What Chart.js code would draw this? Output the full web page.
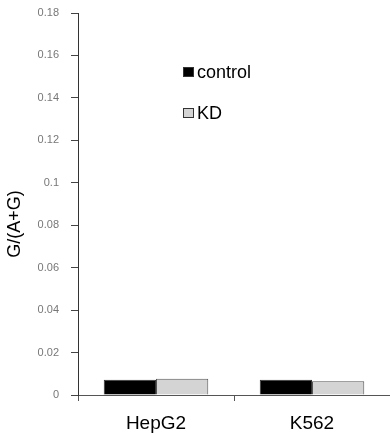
<!DOCTYPE html>
<html>
<head>
<meta charset="utf-8">
<script src="https://cdn.jsdelivr.net/npm/chart.js@4"></script>
<style>
	html, body { margin: 0; padding: 0; background: #fff; }
	#wrap { width: 390px; height: 433px; }
</style>
</head>
<body>
<div id="wrap"><canvas id="my_chart" width="390" height="433"></canvas></div>
<script>
// Data
const cells = ['HepG2', 'K562']
const control = [0.0072, 0.0072]
const kd = [0.0077, 0.0065]
const y_ticks = [0, 0.02, 0.04, 0.06, 0.08, 0.1, 0.12, 0.14, 0.16, 0.18]
const y_title = 'G/(A+G)'

const font_family = '"Liberation Sans", Arial, sans-serif'

// legend inside the plot and the axis title, drawn like the original figure
const extras = {
	id: 'extras',
	afterDraw(chart) {
		const ctx = chart.ctx
		const x = chart.scales.x.left + 105
		const rows = [72, 113]
		chart.data.datasets.forEach((ds, i) => {
			const y = rows[i]
			ctx.save()
			ctx.fillStyle = ds.backgroundColor
			ctx.fillRect(x, y - 5, 11, 10)
			ctx.strokeStyle = '#333'
			ctx.lineWidth = 1
			ctx.strokeRect(x + 0.5, y - 4.5, 10, 9)
			ctx.fillStyle = '#000'
			ctx.font = '18px ' + font_family
			ctx.textBaseline = 'middle'
			ctx.fillText(ds.label, x + 14, y + 1)
			ctx.restore()
		})

		// y axis title
		ctx.save()
		ctx.translate(15, 224)
		ctx.rotate(-Math.PI / 2)
		ctx.fillStyle = '#000'
		ctx.font = '18px ' + font_family
		ctx.textAlign = 'center'
		ctx.textBaseline = 'middle'
		ctx.fillText(y_title, 0, 0)
		ctx.restore()
	}
}

const ctx = document.getElementById('my_chart')
const chart = new Chart(ctx, {
	type: 'bar',
	data: {
		labels: cells,
		datasets: [{
			label: 'control',
			data: control,
			backgroundColor: '#000000',
			borderColor: '#333333',
			borderWidth: 1
		}, {
			label: 'KD',
			data: kd,
			backgroundColor: '#d4d4d4',
			borderColor: '#555555',
			borderWidth: 1
		}]
	},
	options: {
		responsive: false,
		animation: false,
		layout: { padding: { top: 13, right: 0, left: 0, bottom: 0 } },
		plugins: {
			legend: { display: false },
			tooltip: { enabled: false }
		},
		datasets: {
			bar: { barPercentage: 1, categoryPercentage: 0.67 }
		},
		scales: {
			x: {
				grid: { display: true, drawOnChartArea: false, offset: true, tickLength: 6, color: '#555' },
				border: { color: '#555', width: 1 },
				ticks: {
					color: '#000',
					font: { family: font_family, size: 19 },
					padding: 11
				},
				afterFit(scale) { scale.height = 38 }
			},
			y: {
				min: 0,
				max: 0.18,
				afterBuildTicks(scale) { scale.ticks = y_ticks.map(v => ({ value: v })) },
				grid: { display: true, drawOnChartArea: false, tickLength: 7, color: '#444' },
				border: { color: '#333', width: 1 },
				ticks: {
					color: '#777',
					font: { family: font_family, size: 11 },
					padding: 12,
					callback: v => String(+v.toFixed(2))
				},
				afterFit(scale) {
					scale.width = 78
					scale.paddingTop = 0
					scale.paddingBottom = 0
				}
			}
		}
	},
	plugins: [extras]
})
</script>
</body>
</html>
